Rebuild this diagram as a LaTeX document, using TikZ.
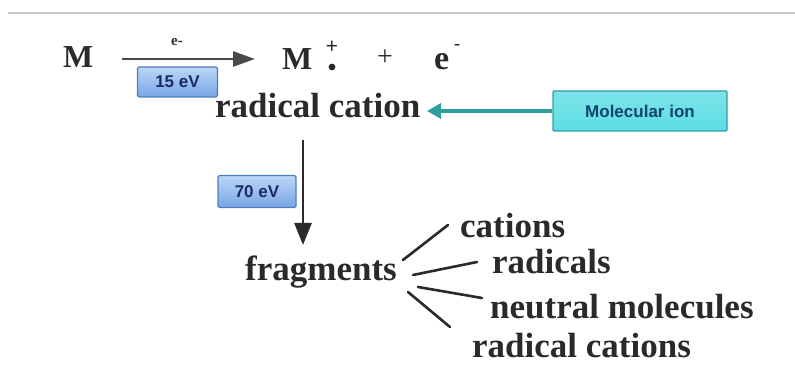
\documentclass[tikz,border=0pt]{standalone}
\usepackage{fontspec}
\setmainfont{Liberation Serif}
\newfontfamily\boxfont{Liberation Sans}
\usetikzlibrary{arrows.meta}
\definecolor{inkgray}{HTML}{2A2A2A}
\definecolor{tealarrow}{HTML}{2E9E9C}
\definecolor{cyanfill}{HTML}{5CDDE4}
\definecolor{cyanborder}{HTML}{2F9FA6}
\definecolor{bluetop}{HTML}{BCD6F5}
\definecolor{bluebot}{HTML}{78A6E6}
\definecolor{blueborder}{HTML}{4D7CC0}
\definecolor{navytext}{HTML}{1B2A66}
\tikzset{
  big/.style={font=\fontsize{35}{40}\selectfont\bfseries, text=inkgray, inner sep=0pt, anchor=base west},
  evbox/.style={draw=blueborder, line width=1.2pt, top color=bluetop, bottom color=bluebot,
     rounded corners=1.5pt, font=\boxfont\fontsize{17}{20}\selectfont\bfseries, text=navytext,
     minimum width=80pt, minimum height=30pt, inner sep=0pt},
  molbox/.style={draw=cyanborder, line width=1.2pt, top color=cyanfill!80!white, bottom color=cyanfill,
     rounded corners=1pt, font=\boxfont\fontsize{17}{20}\selectfont\bfseries, text=navytext!70!teal,
     minimum width=174pt, minimum height=40pt, inner sep=0pt},
  branch/.style={draw=inkgray, line width=2.6pt, line cap=round},
}
\begin{document}
\begin{tikzpicture}[x=1pt,y=-1pt]
\useasboundingbox (0,0) rectangle (795,374);
% top gray rule
\draw[gray!45, line width=1.5pt] (8,13) -- (795,13);

% equation
\node[big, font=\fontsize{32}{36}\selectfont\bfseries] (M1) at (63,68) {M};
\coordinate (a1) at (122,59);
\coordinate (a2) at (255,59);
\draw[inkgray!85, line width=2.6pt, -{Triangle[length=22pt,width=15pt]}] (a1) -- (a2);
\node[font=\fontsize{15}{16}\selectfont\bfseries, text=inkgray, inner sep=0pt] (elab) at (177,42) {e-};
\node[evbox] (b15) at (177.5,82) {15 eV};
\node[big, font=\fontsize{32}{36}\selectfont\bfseries] (M2) at (282,70) {M};
\node[font=\fontsize{22}{24}\selectfont\bfseries, text=inkgray, inner sep=0pt] (plsup) at (332,47) {+};
\fill[inkgray] (332,67) circle (3.4pt);
\node[font=\fontsize{28}{30}\selectfont, text=inkgray, inner sep=0pt] (plus) at (385,58) {+};
\node[big, font=\fontsize{34}{36}\selectfont\bfseries] (e) at (434,70) {e};
\node[font=\fontsize{18}{20}\selectfont\bfseries, text=inkgray, inner sep=0pt] (esup) at (457,47) {-};

% radical cation and molecular ion
\node[big] (rc) at (215,118) {radical cation};
\node[molbox] (mol) at (640,111) {Molecular ion};
\coordinate (t2) at (427,111);
\draw[tealarrow, line width=4pt, -{Triangle[length=14pt,width=15pt]}] (mol.west) -- (t2);

% down arrow
\coordinate (d1) at (303,140);
\coordinate (d2) at (303,245);
\draw[inkgray, line width=2.6pt, -{Triangle[length=22pt,width=17pt]}] (d1) -- (d2);
\node[evbox, minimum width=78pt, minimum height=32pt] (b70) at (257,191.5) {70 eV};

% fragments
\node[big] (frag) at (245,280) {fragments};
\node[big] (cat) at (460,237) {cations};
\node[big] (rad) at (492,273) {radicals};
\node[big] (neu) at (490,318) {neutral molecules};
\node[big] (rcat) at (472,357) {radical cations};

\coordinate (s1) at (403,260); \coordinate (e1) at (448,225);
\coordinate (s2) at (413,275); \coordinate (e2) at (477,262);
\coordinate (s3) at (418,287); \coordinate (e3) at (482,298);
\coordinate (s4) at (408,292); \coordinate (e4) at (450,327);
\draw[branch] (s1) -- (e1);
\draw[branch] (s2) -- (e2);
\draw[branch] (s3) -- (e3);
\draw[branch] (s4) -- (e4);
\end{tikzpicture}
\end{document}
